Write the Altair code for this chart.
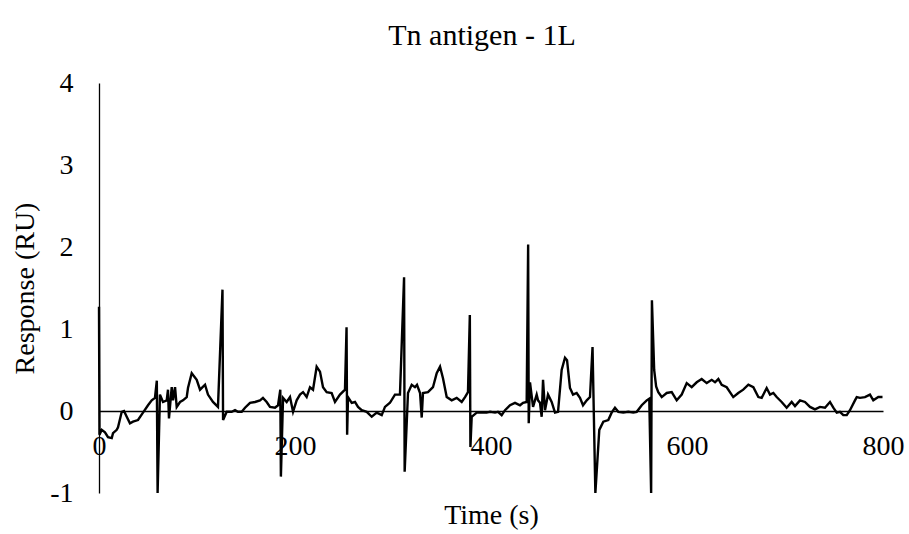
import altair as alt
import pandas as pd

# Sensorgram trace: time (s) and response (RU), spikes are injection artefacts
time_s = [
    0.0, 0.5, 2.8, 6.1, 9.2, 13.0, 14.3, 18.1, 19.4, 23.2, 25.5, 28.3, 31.6,
    34.7, 39.8, 44.9, 50.0, 53.8, 57.1, 59.0, 59.8, 62.2, 65.3, 69.1, 70.4,
    71.4, 74.2, 75.5, 77.6, 79.3, 82.7, 85.7, 89.5, 90.8, 94.6, 99.7, 103.1,
    108.2, 111.2, 116.3, 121.4, 126.0, 126.6, 130.3, 135.4, 138.8, 141.8,
    145.6, 149.0, 154.1, 159.2, 164.3, 167.3, 171.1, 174.5, 179.6, 182.7,
    185.0, 185.6, 187.8, 191.5, 194.9, 198.0, 201.7, 205.1, 208.2, 211.9,
    215.3, 218.4, 222.1, 225.5, 228.6, 232.3, 237.4, 240.8, 245.9, 251.0,
    252.6, 253.2, 254.1, 257.9, 261.2, 264.3, 268.1, 273.2, 278.3, 283.4,
    288.5, 291.8, 296.9, 302.0, 307.1, 311.3, 311.9, 315.3, 319.1, 322.4,
    324.5, 327.6, 329.3, 330.6, 335.7, 340.8, 344.6, 348.0, 351.0, 354.8,
    359.9, 365.0, 370.1, 373.5, 376.5, 378.4, 379.0, 380.3, 385.4, 390.5,
    395.6, 399.0, 404.1, 407.1, 410.9, 414.3, 419.4, 424.5, 429.6, 432.7,
    436.4, 437.9, 438.5, 439.8, 442.9, 446.6, 448.0, 450.0, 451.7, 453.1,
    455.1, 458.2, 461.9, 465.3, 468.4, 472.1, 475.5, 477.6, 480.6, 483.7,
    487.4, 490.8, 493.9, 497.7, 501.0, 503.6, 506.5, 510.5, 514.6, 519.7,
    523.1, 526.5, 529.9, 535.0, 540.1, 545.2, 548.7, 553.8, 558.9, 561.5,
    563.4, 564.2, 566.5, 568.5, 570.7, 574.2, 579.3, 584.4, 589.5, 594.6,
    599.7, 604.8, 609.9, 615.0, 620.1, 625.2, 628.6, 632.0, 635.4, 640.5,
    647.2, 652.3, 657.4, 662.6, 667.7, 672.8, 676.2, 681.3, 684.7, 688.1,
    691.5, 696.6, 701.7, 706.8, 710.2, 715.3, 720.4, 725.5, 730.6, 735.7,
    740.8, 745.9, 749.3, 752.8, 756.1, 759.5, 763.0, 766.3, 771.4, 773.2,
    776.5, 781.6, 786.7, 790.1, 795.2, 799.5,
]
response_ru = [
    1.27, -0.29, -0.23, -0.26, -0.32, -0.33, -0.27, -0.23, -0.20, -0.01, 0.00, -0.07, -0.15,
    -0.13, -0.11, -0.02, 0.07, 0.13, 0.16, 0.37, -1.00, 0.20, 0.11, 0.13, 0.26,
    -0.09, 0.29, 0.13, 0.29, 0.05, 0.11, 0.13, 0.17, 0.28, 0.46, 0.38, 0.26,
    0.32, 0.20, 0.11, 0.05, 1.48, -0.11, -0.01, -0.01, 0.01, -0.01,
    -0.01, 0.04, 0.10, 0.11, 0.13, 0.16, 0.11, 0.05, 0.04, 0.07,
    0.26, -0.80, 0.16, 0.11, 0.17, -0.01, 0.13, 0.20, 0.23, 0.17,
    0.29, 0.26, 0.54, 0.48, 0.29, 0.23, 0.22, 0.11, 0.20, 0.26,
    1.02, -0.29, 0.17, 0.10, 0.11, 0.05, 0.01, -0.01, -0.07, -0.02,
    -0.05, 0.05, 0.10, 0.20, 0.20, 1.63, -0.74, 0.22, 0.32, 0.29,
    0.32, 0.22, -0.08, 0.22, 0.23, 0.29, 0.46, 0.54, 0.40, 0.17,
    0.13, 0.16, 0.11, 0.17, 0.23, 1.17, -0.44, -0.07, -0.02, -0.02,
    -0.02, -0.01, -0.02, -0.01, -0.05, 0.01, 0.07, 0.10, 0.07, 0.10,
    0.11, 2.03, -0.15, 0.35, 0.05, 0.20, 0.13, 0.10, -0.07, 0.38,
    0.01, 0.20, 0.11, -0.02, -0.01, 0.50, 0.65, 0.62, 0.28, 0.20,
    0.22, 0.16, 0.07, 0.13, 0.17, 0.78, -1.00, -0.23, -0.13, -0.11,
    -0.02, 0.04, -0.01, -0.02, -0.01, -0.02, -0.01, 0.07, 0.13, 0.15,
    -1.00, 1.35, 0.50, 0.30, 0.23, 0.17, 0.22, 0.23, 0.13, 0.20,
    0.34, 0.29, 0.35, 0.39, 0.34, 0.38, 0.35, 0.39, 0.32, 0.29,
    0.17, 0.22, 0.26, 0.32, 0.29, 0.17, 0.16, 0.28, 0.20, 0.22,
    0.17, 0.11, 0.04, 0.11, 0.06, 0.13, 0.11, 0.05, 0.02, 0.05,
    0.04, 0.11, 0.04, -0.02, -0.01, -0.05, -0.05, 0.01, 0.13, 0.17,
    0.16, 0.17, 0.20, 0.13, 0.17, 0.17,
]

x_ticks = [0, 200, 400, 600, 800]
y_ticks = [-1, 0, 1, 2, 3, 4]

df = pd.DataFrame({"time": time_s, "response": response_ru})

FONT = "Liberation Serif"

trace = alt.Chart(
    df,
    title=alt.TitleParams(
        "Tn antigen - 1L",
        font=FONT,
        fontSize=30,
        fontWeight="normal",
        color="black",
        anchor="middle",
        frame="group",
        baseline="alphabetic",
        offset=27,
        dx=-9,
        dy=33,
    ),
).mark_line(color="black", strokeWidth=2.4).encode(
    x=alt.X(
        "time:Q",
        scale=alt.Scale(domain=[0, 800], nice=False, zero=False),
        axis=alt.Axis(
            values=x_ticks,
            title="Time (s)",
            offset=-82,  # axis crosses at response = 0
            labelPadding=21,
            labelFlush=False,
            titleY=112,
            titleBaseline="alphabetic",
        ),
    ),
    y=alt.Y(
        "response:Q",
        scale=alt.Scale(domain=[-1, 4], nice=False, zero=False),
        axis=alt.Axis(
            values=y_ticks,
            labelExpr="'' + datum.value",  # plain hyphen for negatives
            title="Response (RU)",
            labelPadding=26,
            labelFlush=False,
            titleX=-66,
            titleY=205,
            titleAngle=270,
            titleAlign="center",
            titleBaseline="alphabetic",
        ),
    ),
)

chart = trace.properties(
    width=784,
    height=410,
    autosize=alt.AutoSizeParams(type="none"),
    padding={"left": 99, "top": 83, "right": 26, "bottom": 41},
    background="white",
).configure_view(
    stroke=None
).configure_axis(
    labelFont=FONT,
    labelFontSize=28,
    labelColor="black",
    titleFont=FONT,
    titleFontSize=28,
    titleFontWeight="normal",
    titleColor="black",
    domainColor="black",
    domainWidth=1.3,
    ticks=False,
    grid=False,
    labelOverlap=False,
    labelBound=False,
)

chart.save("out.html", embed_options={"renderer": "svg", "actions": False})
